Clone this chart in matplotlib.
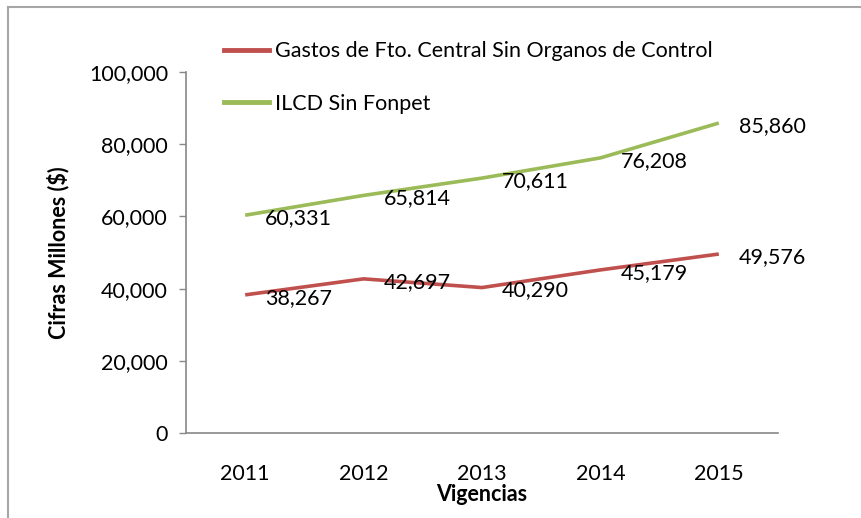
import matplotlib
matplotlib.use('Agg')
import matplotlib.pyplot as plt
from matplotlib.lines import Line2D
from matplotlib.ticker import FuncFormatter

plt.rcParams['font.family'] = ['Lato', 'DejaVu Sans']

years = ['2011', '2012', '2013', '2014', '2015']
gastos = [38267, 42697, 40290, 45179, 49576]
ilcd = [60331, 65814, 70611, 76208, 85860]
series_names = ['Gastos de Fto. Central Sin Organos de Control', 'ILCD Sin Fonpet']
series_colors = ['#C0504D', '#9BBB59']

FS = 15.5
W, H = 861, 518
fig = plt.figure(figsize=(W / 100, H / 100), dpi=100)
ax = fig.add_axes([186 / W, 1 - 433 / H, (778 - 186) / W, (433 - 72) / H])

x = range(len(years))
for vals, name, col in zip([gastos, ilcd], series_names, series_colors):
    ax.plot(x, vals, color=col, linewidth=2.6, label=name, solid_capstyle='butt')
    for xi, v in zip(x, vals):
        ax.annotate(f'{v:,}', (xi, v), xytext=(20, -3), textcoords='offset pixels',
                    ha='left', va='center', fontsize=FS, color='black')

ax.set_xlim(-0.5, 4.5)
ax.set_ylim(0, 100000)
ax.set_yticks(range(0, 100001, 20000))
ax.yaxis.set_major_formatter(FuncFormatter(lambda v, p: f'{int(v):,}'))
ax.set_xticks(list(x))
ax.set_xticklabels(years)
ax.tick_params(axis='y', length=5, width=1, color='#888888', labelsize=FS, pad=8)
ax.tick_params(axis='x', length=0, labelsize=FS, pad=22)

for s in ['top', 'right']:
    ax.spines[s].set_visible(False)
for s in ['left', 'bottom']:
    ax.spines[s].set_color('#888888')
    ax.spines[s].set_linewidth(1.2)

ax.set_xlabel('Vigencias', fontsize=FS, fontweight='bold', labelpad=0)
ax.set_ylabel('Cifras Millones ($)', fontsize=FS, fontweight='bold', labelpad=14)

handles = [Line2D([], [], color=c, linewidth=3.5) for c in series_colors]
fig.legend(handles, series_names, loc='upper left', bbox_to_anchor=(205 / W, 1 - 22 / H),
           frameon=False, fontsize=FS, handlelength=2.05, handletextpad=0.28,
           labelspacing=1.5)

# outer chart border (only top and left edges are visible in the crop)
fig.add_artist(Line2D([8 / W, 8 / W], [0, 1 - 7 / H], transform=fig.transFigure,
                      color='#A6A6A6', linewidth=1.5))
fig.add_artist(Line2D([8 / W, 1], [1 - 7 / H, 1 - 7 / H], transform=fig.transFigure,
                      color='#A6A6A6', linewidth=1.5))

fig.savefig('out.png', dpi=100)
